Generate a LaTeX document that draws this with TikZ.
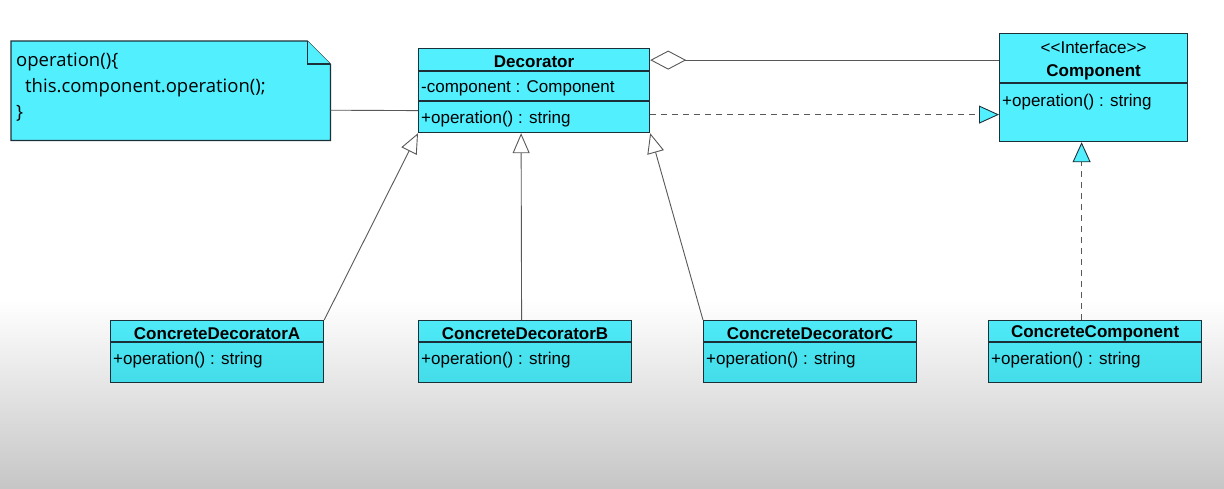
\documentclass[tikz,border=0pt]{standalone}
\usepackage{fontspec}
\setmainfont{Liberation Sans}
\newfontfamily\notefont{Open Sans}
\usetikzlibrary{arrows.meta,positioning,calc}
\definecolor{ClassCyan}{RGB}{82,240,255}
\definecolor{ClassCyanTop}{RGB}{78,234,248}
\definecolor{ClassCyanLow}{RGB}{68,220,232}
\definecolor{EdgeDark}{RGB}{28,48,58}
\definecolor{LinkGray}{RGB}{88,88,88}
\definecolor{BackGray}{RGB}{198,198,198}

\begin{document}
\begin{tikzpicture}[x=1pt,y=-1pt,
    font=\fontsize{17}{20}\selectfont,
    classbox/.style={draw=EdgeDark,line width=1.2pt,fill=ClassCyan,anchor=north west,inner sep=0pt},
    lowbox/.style={classbox,top color=ClassCyanTop,bottom color=ClassCyanLow,
      minimum width=213,minimum height=62},
    notebox/.style={draw=EdgeDark,line width=1.2pt,fill=ClassCyan},
    notetext/.style={font=\fontsize{18.5}{22}\notefont,anchor=base west,inner sep=0pt},
    clsname/.style={font=\fontsize{17}{20}\selectfont\bfseries,inner sep=0pt},
    member/.style={anchor=west,inner sep=0pt},
    divider/.style={draw=EdgeDark,line width=1.2pt},
    link/.style={draw=LinkGray,line width=0.9pt},
    inherit/.style={link,-{Triangle[length=20pt,width=17pt,fill=white]}},
    realize/.style={link,dash pattern=on 6pt off 5pt,
      -{Triangle[length=20pt,width=18pt,color=EdgeDark,fill=ClassCyan]}},
    aggr/.style={link,{Diamond[length=36pt,width=19pt,fill=white]}-}
  ]
    \useasboundingbox (0,0) rectangle (1224,488);
    \fill[white] (0,0) rectangle (1224,300);
    \shade[top color=white,bottom color=BackGray] (0,300) rectangle (1224,488);

    % note on the decorator
    \node[minimum width=319,minimum height=99,anchor=north west,inner sep=0pt] (note) at (11,41) {};
    \draw[notebox] (note.north west) -- ($(note.north east)+(-23,0)$) -- ($(note.north east)+(0,23)$)
      -- (note.south east) -- (note.south west) -- cycle;
    \draw[notebox] ($(note.north east)+(-23,0)$) -- ($(note.north east)+(-23,23)$) -- ($(note.north east)+(0,23)$);
    \node[notetext] (noteA) at (16,66) {operation()\{};
    \node[notetext] (noteB) at (25,92) {this.component.operation();};
    \node[notetext] (noteC) at (16,118) {\}};

    % Decorator
    \node[classbox,minimum width=231,minimum height=84] (dec) at (418,48) {};
    \node[clsname] (decName) at ($(dec.north)+(0,14)$) {Decorator};
    \draw[divider] ($(dec.north west)+(0,23)$) -- ($(dec.north east)+(0,23)$);
    \node[member] (decAttr) at ($(dec.north west)+(3,40.5)$) {-component : Component};
    \draw[divider] ($(dec.north west)+(0,53)$) -- ($(dec.north east)+(0,53)$);
    \node[member] (decOp) at ($(dec.north west)+(3,71)$) {+operation() : string};

    % Component
    \node[classbox,minimum width=188,minimum height=108] (comp) at (999,33) {};
    \node[inner sep=0pt] (compStereo) at ($(comp.north)+(0,14.5)$) {{<}{<}Interface{>}{>}};
    \node[clsname] (compName) at ($(comp.north)+(0,39.5)$) {Component};
    \draw[divider] ($(comp.north west)+(0,50)$) -- ($(comp.north east)+(0,50)$);
    \node[member] (compOp) at ($(comp.north west)+(3,69)$) {+operation() : string};

    % concrete classes
    \node[lowbox] (cdA) at (110,320) {};
    \node[clsname] (cdAName) at ($(cdA.north)+(0,13.5)$) {ConcreteDecoratorA};
    \draw[divider] ($(cdA.north west)+(0,22)$) -- ($(cdA.north east)+(0,22)$);
    \node[member] (cdAOp) at ($(cdA.north west)+(3,40)$) {+operation() : string};

    \node[lowbox] (cdB) at (418,320) {};
    \node[clsname] (cdBName) at ($(cdB.north)+(0,13.5)$) {ConcreteDecoratorB};
    \draw[divider] ($(cdB.north west)+(0,22)$) -- ($(cdB.north east)+(0,22)$);
    \node[member] (cdBOp) at ($(cdB.north west)+(3,40)$) {+operation() : string};

    \node[lowbox] (cdC) at (703,320) {};
    \node[clsname] (cdCName) at ($(cdC.north)+(0,13.5)$) {ConcreteDecoratorC};
    \draw[divider] ($(cdC.north west)+(0,22)$) -- ($(cdC.north east)+(0,22)$);
    \node[member] (cdCOp) at ($(cdC.north west)+(3,40)$) {+operation() : string};

    \node[lowbox] (conc) at (988,320) {};
    \node[clsname] (concName) at ($(conc.north)+(0,13.5)$) {ConcreteComponent};
    \draw[divider] ($(conc.north west)+(0,22)$) -- ($(conc.north east)+(0,22)$);
    \node[member] (concOp) at ($(conc.north west)+(3,40)$) {+operation() : string};

    % relations
    \draw[link] ([yshift=-19.5pt]note.east) -- ([yshift=-20pt]dec.west);
    \draw[aggr] ([yshift=30.5pt]dec.east) -- ([yshift=27.5pt]comp.west);
    \draw[realize] ([yshift=-24pt]dec.east) -- ([yshift=-27pt]comp.west);
    \draw[inherit] (cdA.north east) -- (dec.south west);
    \draw[inherit] ([xshift=-3.5pt]cdB.north) -- ([xshift=-13pt]dec.south);
    \draw[inherit] (cdC.north west) -- (dec.south east);
    \draw[realize] ([xshift=-13.5pt]conc.north) -- ([xshift=-12pt]comp.south);
  \end{tikzpicture}
\end{document}
